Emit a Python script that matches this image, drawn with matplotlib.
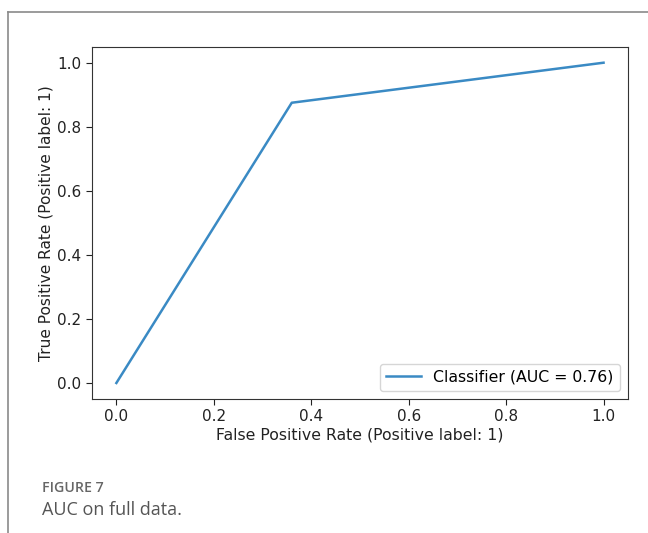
import matplotlib.pyplot as plt
from matplotlib.lines import Line2D

# ROC curve points
fpr = [0.0, 0.36, 1.0]
tpr = [0.0, 0.875, 1.0]
auc_label = "Classifier (AUC = 0.76)"
x_ticks = [0.0, 0.2, 0.4, 0.6, 0.8, 1.0]
y_ticks = [0.0, 0.2, 0.4, 0.6, 0.8, 1.0]

fig = plt.figure(figsize=(6.48, 5.33), dpi=100)
ax = fig.add_axes([0.142, 0.2514, 0.827, 0.661])

ax.plot(fpr, tpr, color="#3a8ac4", lw=1.8, label=auc_label)
ax.set_xticks(x_ticks)
ax.set_yticks(y_ticks)
ax.set_xticklabels([f"{v:.1f}" for v in x_ticks])
ax.set_yticklabels([f"{v:.1f}" for v in y_ticks])
ax.tick_params(labelsize=11, colors="#222222", length=4)
for sp in ax.spines.values():
    sp.set_color("#333333")
ax.set_xlabel("False Positive Rate (Positive label: 1)", fontsize=11.3, color="#222222", labelpad=2)
ax.set_ylabel("True Positive Rate (Positive label: 1)", fontsize=11.1, color="#222222", labelpad=3)
ax.legend(loc="lower right", fontsize=11.3, handlelength=2.2, edgecolor="#cccccc")

# page frame around the figure
fig.add_artist(Line2D([8 / 648, 8 / 648], [0, 1 - 12 / 533], color="#8a8a8a", lw=1.2))
fig.add_artist(Line2D([8 / 648, 1], [1 - 12 / 533, 1 - 12 / 533], color="#8a8a8a", lw=1.2))

# caption
fig.text(42 / 648, 1 - 488 / 533, "FIGURE 7", fontsize=10.2, color="#666666",
         family="Open Sans", weight="semibold", va="center")
fig.text(42 / 648, 1 - 510 / 533, "AUC on full data.", fontsize=13, color="#555555",
         family="Open Sans", va="center")

fig.savefig("out.png", dpi=100)
